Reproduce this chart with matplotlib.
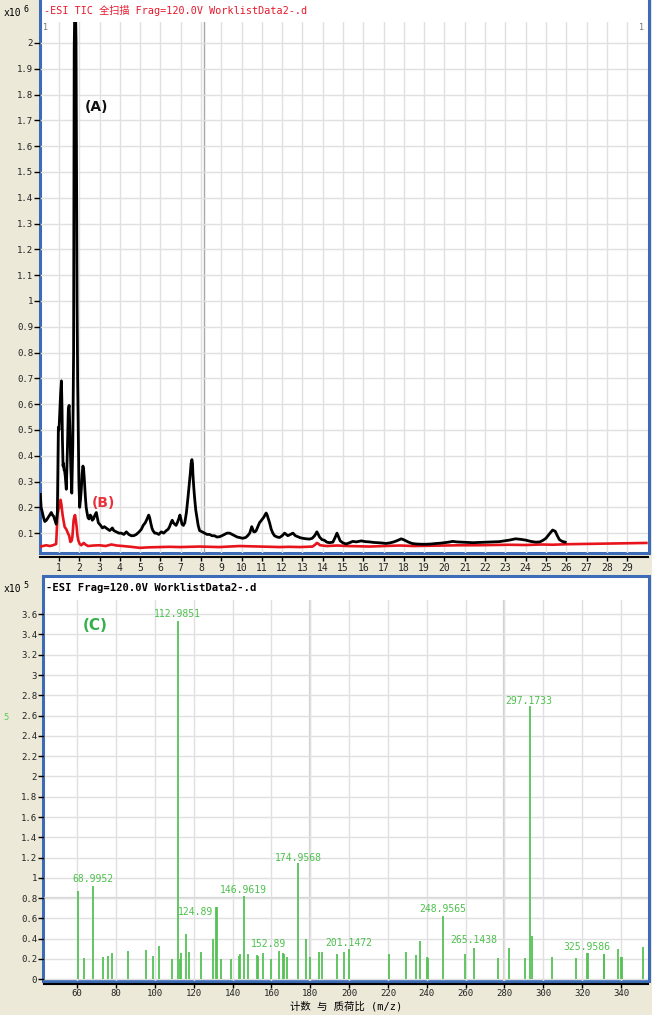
import matplotlib
matplotlib.use('Agg')
import matplotlib.pyplot as plt
from matplotlib.patches import Rectangle

# ---- chromatogram (A) black trace: retention time (min), counts x1e6
t_a = [0.08, 0.12, 0.18, 0.24, 0.30, 0.38, 0.46, 0.54, 0.62, 0.68, 0.74, 0.80, 0.86, 0.92,
       0.97, 1.00, 1.03, 1.08, 1.12, 1.15, 1.17, 1.20, 1.22, 1.25, 1.28, 1.31, 1.36, 1.41,
       1.46, 1.50, 1.53, 1.58, 1.63, 1.68, 1.72, 1.75, 1.78, 1.81, 1.84, 1.86, 1.89, 1.92,
       1.95, 1.98, 2.02, 2.06, 2.10, 2.14, 2.18, 2.21, 2.24, 2.30, 2.34, 2.38, 2.43, 2.48,
       2.54, 2.59, 2.64, 2.70, 2.77, 2.84, 2.89, 2.94, 3.00, 3.05, 3.14, 3.24, 3.32, 3.41,
       3.50, 3.57, 3.63, 3.70, 3.82, 3.95, 4.07, 4.20, 4.32, 4.44, 4.56, 4.68, 4.81, 4.95,
       5.06, 5.15, 5.25, 5.34, 5.42, 5.47, 5.52, 5.58, 5.63, 5.72, 5.80, 5.92, 6.04, 6.16,
       6.29, 6.38, 6.45, 6.52, 6.58, 6.64, 6.70, 6.77, 6.83, 6.90, 6.96, 7.01, 7.06, 7.13,
       7.20, 7.28, 7.36, 7.42, 7.47, 7.51, 7.55, 7.58, 7.60, 7.64, 7.68, 7.74, 7.80, 7.86,
       7.93, 8.05, 8.17, 8.30, 8.42, 8.54, 8.66, 8.78, 8.91, 9.03, 9.16, 9.28, 9.41, 9.53,
       9.65, 9.78, 9.90, 10.05, 10.20, 10.30, 10.40, 10.46, 10.50, 10.55, 10.60, 10.66,
       10.72, 10.80, 10.88, 10.98, 11.08, 11.15, 11.21, 11.26, 11.30, 11.38, 11.46, 11.54,
       11.62, 11.75, 11.87, 12.00, 12.12, 12.20, 12.28, 12.40, 12.53, 12.65, 12.77, 12.90,
       13.02, 13.18, 13.35, 13.48, 13.60, 13.71, 13.78, 13.84, 13.96, 14.09, 14.20, 14.33,
       14.50, 14.62, 14.70, 14.78, 14.86, 15.00, 15.15, 15.30, 15.48, 15.65, 15.90, 16.10,
       16.30, 16.50, 16.70, 16.90, 17.10, 17.30, 17.50, 17.70, 17.87, 18.00, 18.20, 18.40,
       18.60, 18.85, 19.10, 19.35, 19.60, 19.80, 20.00, 20.20, 20.40, 20.60, 20.90, 21.15,
       21.40, 21.70, 22.00, 22.35, 22.70, 22.95, 23.20, 23.50, 23.75, 24.00, 24.25, 24.50,
       24.70, 24.85, 25.00, 25.15, 25.33, 25.46, 25.56, 25.66, 25.80, 25.95]
i_a = [0.25, 0.20, 0.18, 0.16, 0.145, 0.15, 0.16, 0.17, 0.18, 0.17, 0.165, 0.15, 0.135, 0.18,
       0.51, 0.50, 0.55, 0.64, 0.69, 0.58, 0.46, 0.36, 0.37, 0.345, 0.34, 0.32, 0.27, 0.41,
       0.58, 0.595, 0.52, 0.36, 0.255, 0.44, 0.80, 1.98, 2.15, 2.15, 2.01, 1.60, 1.00, 0.69,
       0.50, 0.30, 0.20, 0.23, 0.27, 0.33, 0.36, 0.35, 0.32, 0.24, 0.20, 0.18, 0.16, 0.155,
       0.17, 0.165, 0.15, 0.155, 0.17, 0.18, 0.16, 0.14, 0.135, 0.13, 0.12, 0.125, 0.12, 0.115,
       0.11, 0.115, 0.12, 0.11, 0.105, 0.10, 0.10, 0.095, 0.105, 0.095, 0.09, 0.09, 0.095, 0.105,
       0.115, 0.13, 0.14, 0.155, 0.17, 0.16, 0.14, 0.12, 0.11, 0.10, 0.10, 0.095, 0.105, 0.10,
       0.11, 0.115, 0.125, 0.14, 0.15, 0.14, 0.135, 0.13, 0.14, 0.155, 0.17, 0.155, 0.135, 0.13,
       0.14, 0.18, 0.24, 0.29, 0.33, 0.37, 0.385, 0.37, 0.33, 0.28, 0.24, 0.19, 0.16, 0.13,
       0.11, 0.105, 0.10, 0.095, 0.095, 0.09, 0.09, 0.085, 0.086, 0.09, 0.095, 0.10, 0.10, 0.095,
       0.09, 0.085, 0.083, 0.08, 0.083, 0.09, 0.10, 0.115, 0.125, 0.115, 0.105, 0.105,
       0.11, 0.125, 0.14, 0.15, 0.16, 0.17, 0.178, 0.17, 0.16, 0.14, 0.115, 0.10,
       0.09, 0.085, 0.083, 0.09, 0.10, 0.095, 0.09, 0.095, 0.10, 0.09, 0.086, 0.082,
       0.08, 0.078, 0.077, 0.08, 0.09, 0.105, 0.095, 0.085, 0.075, 0.072, 0.065, 0.063,
       0.065, 0.085, 0.10, 0.085, 0.07, 0.062, 0.058, 0.062, 0.068, 0.066, 0.07, 0.067,
       0.066, 0.064, 0.063, 0.062, 0.06, 0.062, 0.066, 0.072, 0.078, 0.074, 0.066, 0.06,
       0.058, 0.057, 0.057, 0.058, 0.06, 0.061, 0.063, 0.065, 0.068, 0.066, 0.065, 0.064,
       0.063, 0.064, 0.065, 0.066, 0.067, 0.07, 0.073, 0.078, 0.076, 0.073, 0.068, 0.065,
       0.066, 0.072, 0.08, 0.095, 0.112, 0.107, 0.09, 0.075, 0.068, 0.065]

# ---- chromatogram (B) red trace
t_b = [0.08, 0.20, 0.37, 0.55, 0.70, 0.86, 0.93, 0.97, 1.00, 1.04, 1.08, 1.12, 1.17, 1.22,
       1.28, 1.36, 1.45, 1.50, 1.56, 1.62, 1.66, 1.72, 1.76, 1.79, 1.83, 1.87, 1.91, 1.95,
       2.02, 2.10, 2.22, 2.30, 2.43, 2.70, 3.00, 3.30, 3.58, 3.85, 4.15, 4.55, 4.97, 5.45,
       5.96, 6.45, 6.95, 7.45, 7.93, 8.40, 8.91, 9.40, 9.90, 10.40, 10.88, 11.40, 11.87,
       12.35, 12.85, 13.20, 13.50, 13.62, 13.71, 13.80, 13.87, 14.20, 14.70, 15.20, 15.80,
       16.30, 17.00, 17.80, 18.50, 19.20, 20.00, 20.80, 21.60, 22.40, 23.20, 24.00, 24.80,
       25.33, 26.00, 26.80, 27.60, 28.40, 29.20, 29.95]
i_b = [0.048, 0.05, 0.053, 0.05, 0.053, 0.058, 0.175, 0.19, 0.217, 0.20, 0.229, 0.21, 0.175, 0.15,
       0.124, 0.115, 0.098, 0.09, 0.066, 0.07, 0.085, 0.15, 0.165, 0.17, 0.15, 0.124, 0.09, 0.072,
       0.058, 0.053, 0.062, 0.056, 0.05, 0.052, 0.053, 0.05, 0.056, 0.052, 0.05, 0.047, 0.043, 0.045,
       0.046, 0.047, 0.046, 0.047, 0.048, 0.047, 0.046, 0.048, 0.05, 0.049, 0.048, 0.047, 0.046,
       0.047, 0.046, 0.047, 0.048, 0.055, 0.062, 0.058, 0.053, 0.05, 0.052, 0.05, 0.049,
       0.048, 0.05, 0.052, 0.05, 0.051, 0.052, 0.053, 0.053, 0.054, 0.055, 0.054, 0.056,
       0.055, 0.057, 0.058, 0.059, 0.06, 0.061, 0.062]

# ---- mass spectrum (C): m/z and counts x1e5
mz = [60.5, 63.4, 67.9, 73.4, 76.0, 78.0, 86.0, 95.4, 98.8, 101.9, 108.9, 111.9, 112.9, 113.6,
      115.8, 117.5, 123.9, 130.0, 131.5, 132.2, 133.8, 139.3, 143.4, 143.9, 146.0, 147.9,
      152.4, 153.2, 155.8, 159.7, 164.0, 165.8, 166.6, 167.8, 173.8, 177.8, 179.8, 184.6,
      185.8, 193.6, 197.5, 200.1, 220.5, 229.1, 234.3, 236.5, 239.9, 240.4, 248.2, 259.6,
      264.4, 276.5, 282.5, 290.5, 293.1, 294.1, 304.6, 316.6, 322.4, 322.8, 331.1, 331.4,
      338.6, 339.8, 340.5, 351.1]
counts = [0.87, 0.21, 0.92, 0.22, 0.23, 0.26, 0.28, 0.29, 0.23, 0.33, 0.20, 3.53, 0.20, 0.26,
          0.45, 0.27, 0.27, 0.40, 0.71, 0.71, 0.20, 0.20, 0.23, 0.25, 0.82, 0.25,
          0.24, 0.23, 0.26, 0.20, 0.28, 0.26, 0.25, 0.22, 1.15, 0.40, 0.22, 0.27,
          0.27, 0.25, 0.27, 0.30, 0.25, 0.27, 0.24, 0.38, 0.22, 0.21, 0.62, 0.25,
          0.31, 0.21, 0.31, 0.21, 2.69, 0.43, 0.22, 0.21, 0.26, 0.26, 0.25, 0.25,
          0.30, 0.22, 0.22, 0.32]

# peak labels: text, x, y (label anchor)
peak_labels = ["112.9851", "68.9952", "124.89", "146.9619", "152.89", "174.9568",
               "201.1472", "248.9565", "265.1438", "297.1733", "325.9586"]
label_x = [111.6, 68.1, 121.1, 145.8, 158.7, 173.9, 199.9, 248.1, 264.3, 292.6, 322.2]
label_y = [3.60, 0.99, 0.66, 0.88, 0.345, 1.20, 0.355, 0.69, 0.385, 2.745, 0.32]

top_yticks = [0.1, 0.2, 0.3, 0.4, 0.5, 0.6, 0.7, 0.8, 0.9, 1.0,
              1.1, 1.2, 1.3, 1.4, 1.5, 1.6, 1.7, 1.8, 1.9, 2.0]
bot_yticks = [0, 0.2, 0.4, 0.6, 0.8, 1.0, 1.2, 1.4, 1.6, 1.8, 2.0,
              2.2, 2.4, 2.6, 2.8, 3.0, 3.2, 3.4, 3.6]
bot_xticks = [60, 80, 100, 120, 140, 160, 180, 200, 220, 240, 260, 280, 300, 320, 340]

W, H = 652, 1015
BLUE = '#3c6cb8'
GRID = '#e0e0e0'
MONO = 'DejaVu Sans Mono'
CJK = ['DejaVu Sans Mono', 'Noto Sans CJK SC']


def fx(px):
    return px / W


def fy(py):
    return 1 - py / H


def fmt(v):
    if abs(v - round(v)) < 1e-9:
        return str(int(round(v)))
    return '%.1f' % v


fig = plt.figure(figsize=(6.52, 10.15), dpi=100, facecolor='#ece9d8')

# white panel frames with blue border
fig.add_artist(Rectangle((fx(40), fy(553)), 609 / W, 563 / H, transform=fig.transFigure,
                         facecolor='white', edgecolor=BLUE, lw=2.2, zorder=-1))
fig.add_artist(Rectangle((fx(43), fy(981)), 606 / W, 405 / H, transform=fig.transFigure,
                         facecolor='white', edgecolor=BLUE, lw=2.2, zorder=-1))

# ---------------- top: TIC ----------------
ax1 = fig.add_axes([fx(40), fy(553), 608 / W, 531 / H])
ax1.set_facecolor('none')
ax1.set_xlim(0.064, 30.03)
ax1.set_ylim(0.023, 2.081)
ax1.set_xticks(range(1, 30))
ax1.set_yticks(top_yticks)
ax1.set_yticklabels([fmt(v) for v in top_yticks])
ax1.grid(True, color=GRID, lw=1, zorder=0)
ax1.axvline(8.15, color='#a8a8a8', lw=1, zorder=1)
for s in ['left', 'top', 'right']:
    ax1.spines[s].set_visible(False)
ax1.spines['bottom'].set_position(('outward', 3))
ax1.spines['bottom'].set_linewidth(1.5)
ax1.tick_params(axis='x', direction='out', length=3, width=1, labelsize=7, pad=1.5, labelcolor='#222222')
ax1.tick_params(axis='y', direction='out', length=4, width=1, labelsize=6.5, pad=1, labelcolor='#222222')
for lab in ax1.get_xticklabels() + ax1.get_yticklabels():
    lab.set_family(MONO)

ax1.plot(t_b, i_b, color='#e8141c', lw=1.9, zorder=3)
ax1.plot(t_a, i_a, color='black', lw=2.0, zorder=4)
ax1.text(2.87, 1.75, '(A)', fontsize=10, fontweight='bold', color='#111111', ha='center', va='center')
ax1.text(3.17, 0.217, '(B)', fontsize=10, fontweight='bold', color='#e8323c', ha='center', va='center')

fig.text(fx(4), fy(13), 'x10', fontsize=7, family=MONO, va='center')
fig.text(fx(23), fy(9), '6', fontsize=6, family=MONO, va='center')
fig.text(fx(44), fy(11), '-ESI TIC 全扫描 Frag=120.0V WorklistData2-.d', color='#e8182c',
         fontsize=7.3, family=CJK, va='center')
fig.text(fx(42), fy(28), '1', fontsize=6, color='#777777', va='center')
fig.text(fx(638), fy(28), '1', fontsize=6, color='#777777', va='center')

# ---------------- bottom: spectrum ----------------
ax2 = fig.add_axes([fx(44), fy(981), 604 / W, 381 / H])
ax2.set_facecolor('none')
ax2.set_xlim(42.9, 353.9)
ax2.set_ylim(-0.017, 3.74)
ax2.set_xticks(bot_xticks)
ax2.set_yticks(bot_yticks)
ax2.set_yticklabels([fmt(v) for v in bot_yticks])
ax2.grid(True, color=GRID, lw=1, zorder=0)
for v in [180, 280]:
    ax2.axvline(v, color='#cfcfcf', lw=1.6, zorder=0)
ax2.axhline(0.8, color='#d6d6d6', lw=1.6, zorder=0)
for s in ['left', 'top', 'right']:
    ax2.spines[s].set_visible(False)
ax2.spines['bottom'].set_position(('outward', 2))
ax2.spines['bottom'].set_linewidth(1.5)
ax2.tick_params(axis='x', direction='out', length=3, width=1, labelsize=6.5, pad=1, labelcolor='#222222')
ax2.tick_params(axis='y', direction='out', length=4, width=1, labelsize=6.5, pad=1, labelcolor='#222222')
for lab in ax2.get_xticklabels() + ax2.get_yticklabels():
    lab.set_family(MONO)

ax2.vlines(mz, 0, counts, color='#55c255', lw=1.3, zorder=3)
for txt, x, y in zip(peak_labels, label_x, label_y):
    ax2.text(x, y, txt, fontsize=7, family=MONO, color='#4cc04c', ha='center', va='center', zorder=4)
ax2.text(69.1, 3.49, '(C)', fontsize=11, fontweight='bold', color='#33b04a', ha='center', va='center')

fig.text(fx(4), fy(589), 'x10', fontsize=7, family=MONO, va='center')
fig.text(fx(23), fy(585), '5', fontsize=6, family=MONO, va='center')
fig.text(fx(46), fy(588), '-ESI Frag=120.0V WorklistData2-.d', color='black',
         fontsize=7.6, family=MONO, fontweight='bold', va='center')
fig.text(fx(3), fy(718), '5', fontsize=6, color='#55cc55', va='center')
fig.text(fx(346), fy(1006), '计数 与 质荷比 (m/z)', fontsize=7.5, family=CJK, ha='center', va='center')

fig.savefig('out.png', dpi=100, facecolor=fig.get_facecolor())
